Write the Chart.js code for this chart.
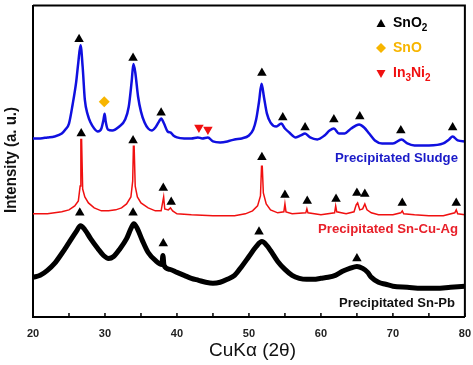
<!DOCTYPE html>
<html>
<head>
<meta charset="utf-8">
<script src="https://cdn.jsdelivr.net/npm/chart.js@4.4.1/dist/chart.umd.min.js"></script>
<style>
  body { margin: 0; background: #fff; }
  #wrap { width: 473px; height: 365px; }
</style>
</head>
<body>
<div id="wrap"><canvas id="xrd"></canvas></div>
<script>
// intensity in arbitrary units (stacked offsets already included)
const sludgeX = [20,21,22,23,24,24.5,25,25.5,26,26.3,26.6,26.9,27.2,27.6,28,28.5,29,29.5,29.8,29.95,30.1,30.4,31,32,32.8,33.3,33.7,33.95,34.2,34.6,35,35.5,36,36.5,37,37.5,37.8,38.2,38.7,39.1,39.5,40,41,42,42.9,43.5,44.3,45,46,47,48,49,50,50.6,51,51.4,51.75,52.1,52.5,53,53.8,54.5,55,55.6,56.5,57.2,57.8,58.5,59.5,60.5,61.2,61.8,62.5,63.3,64.2,65.3,66,66.7,67.5,68.5,70,71.2,72,73,75,77,77.8,78.3,79,80];
const sludgeY = [180,180,181,182,185,189,195,214,237,257,274,252,219,204,196,190,187,190,199,205,197,189,188,192,199,212,237,255,247,222,207,196,190,188,191,197,200,195,187,186,183,181,180,180,181,180,181,177,176,177,179,180,183,189,199,217,235,221,205,196,192,195,190,186,181,183,185,181,179,183,188,190,185,185,190,194,191,185,178,175,175,179,175,173,173,175,179,182,178,177];

const cuagX = [20,22,23,24,25,25.8,26.3,26.55,26.65,26.75,26.9,27.2,27.7,28.5,29.5,30.5,31.5,32.3,33,33.6,33.85,33.95,34.05,34.2,34.5,35,36,37,37.8,38.05,38.15,38.3,38.8,39.1,39.4,40,42,45,48,49.5,50.5,51.2,51.6,51.75,51.85,52,52.4,53,54,54.85,55,55.15,56,57.9,58.05,58.2,60,61.9,62.05,62.2,63.5,64.6,64.9,65.1,65.4,65.8,66.1,66.4,67,68,70,71.1,71.3,71.5,73,75,77,78.6,78.8,79,80];
const cuagY = [104,104,105,106,108,112,117,132,179,179,129,121,115,110,107,107,108,110,114,121,137,172,172,132,121,115,110,107,107,117,121,109,108,110,107,104,103,102,102,104,107,112,122,152,152,125,114,108,105,106,114,106,104,105,109,105,103,105,112,106,104,106,113,115,108,109,114,108,105,103,103,105,107,104,103,102,102,105,108,104,103];

const snpbX = [20,21,22,23,24,25,26,26.6,27.2,28,29,29.8,30.5,31.2,32,33,33.6,34,34.5,35.2,36,37,37.9,38.05,38.2,39,40,41,42,43,44,45,46,47,48,49,50,51,51.8,52.5,53,54,55,56,57,58,59,60,61,62,63,64,65,65.8,66.5,67,68,69,70,72,74,76,78,80];
const snpbY = [40,42,47,54,64,75,86,92,88,79,69,62,59,61,68,79,89,94,89,77,65,57,53,62,52,48,45,42,39,37,35,34,35,38,42,51,61,71,76,72,67,56,48,42,39,38,38,39,40,42,46,49,51,49,45,40,35,33,31,30,29,29,30,31];

// reflection markers
const sno2X = [26.4,33.9,37.8,51.8,54.7,57.8,61.8,65.4,71.1,78.3, 26.7,33.9,38.1,39.2,51.8,55.0,58.1,62.1,65.0,66.1,71.3,78.8, 26.5,33.9,38.1,51.4,65.0];
const sno2Y = [280,261,206,246,201,191,199,202,188,191, 185,178,130,116,161,123,117,119,125,124,115,115, 105,105,74,86,59];
const snoX = [29.9];
const snoY = [217];
const in3ni2X = [43.05,44.3];
const in3ni2Y = [191,189];

const xTicks = [20,30,40,50,60,70,80];

const BLUE = '#1010e0';
const RED = '#f01010';
const ORANGE = '#f7b500';

function pts(xs, ys) { return xs.map((x, i) => ({x: x, y: ys[i]})); }

function sub(ctx, parts, x, y, color) {
  // parts: [text, isSub]
  ctx.fillStyle = color;
  ctx.textBaseline = 'middle';
  ctx.textAlign = 'left';
  let cx = x;
  parts.forEach(p => {
    ctx.font = p[1] ? 'bold 10px Arial' : 'bold 14px Arial';
    ctx.fillText(p[0], cx, y + (p[1] ? 5 : 0));
    cx += ctx.measureText(p[0]).width;
  });
}

function fitText(ctx, text, font, right, y, width, color) {
  ctx.save();
  ctx.font = font;
  ctx.fillStyle = color;
  ctx.textBaseline = 'middle';
  ctx.textAlign = 'left';
  const w = ctx.measureText(text).width;
  const s = width / w;
  ctx.translate(right - width, y);
  ctx.scale(s, 1);
  ctx.fillText(text, 0, 0);
  ctx.restore();
}

const decor = {
  id: 'decor',
  afterDraw(chart) {
    const ctx = chart.ctx;
    const a = chart.chartArea;
    const xs = chart.scales.x;
    ctx.save();
    // frame top + right
    ctx.strokeStyle = '#000';
    ctx.lineWidth = 2;
    ctx.beginPath();
    ctx.moveTo(a.left, a.top);
    ctx.lineTo(a.right, a.top);
    ctx.lineTo(a.right, a.bottom);
    ctx.stroke();
    // inward ticks
    ctx.lineWidth = 1.5;
    for (let v = 20; v <= 80; v += 5) {
      const px = xs.getPixelForValue(v);
      ctx.beginPath();
      ctx.moveTo(px, a.bottom);
      ctx.lineTo(px, a.bottom - 4);
      ctx.stroke();
    }
    // legend
    const lx = 381;
    ctx.fillStyle = '#000';
    ctx.beginPath();
    ctx.moveTo(lx - 4.5, 27); ctx.lineTo(lx + 4.5, 27); ctx.lineTo(lx, 19); ctx.closePath(); ctx.fill();
    sub(ctx, [['SnO', false], ['2', true]], 393, 23, '#000');
    ctx.fillStyle = ORANGE;
    ctx.beginPath();
    ctx.moveTo(lx, 43); ctx.lineTo(lx + 5, 48); ctx.lineTo(lx, 53); ctx.lineTo(lx - 5, 48); ctx.closePath(); ctx.fill();
    sub(ctx, [['SnO', false]], 393, 48, ORANGE);
    ctx.fillStyle = RED;
    ctx.beginPath();
    ctx.moveTo(lx - 4.5, 70); ctx.lineTo(lx + 4.5, 70); ctx.lineTo(lx, 78); ctx.closePath(); ctx.fill();
    sub(ctx, [['In', false], ['3', true], ['Ni', false], ['2', true]], 393, 73, RED);
    // series labels
    fitText(ctx, 'Precipitated Sludge', 'bold 13px Arial', 458, 158, 123, '#1a1ac8');
    fitText(ctx, 'Precipitated Sn-Cu-Ag', 'bold 13px Arial', 458, 229, 140, '#e8202a');
    fitText(ctx, 'Precipitated Sn-Pb', 'bold 13px Arial', 455, 303, 116, '#111');
    // axis titles
    ctx.save();
    ctx.translate(11, 160);
    ctx.rotate(-Math.PI / 2);
    fitText(ctx, 'Intensity (a. u.)', 'bold 17px Arial', 53, 0, 106, '#111');
    ctx.restore();
    fitText(ctx, 'CuK\u03b1 (2\u03b8)', '18px Arial', 296, 351, 87, '#111');
    ctx.restore();
  }
};

new Chart(document.getElementById('xrd'), {
  type: 'line',
  data: {
    datasets: [
      { data: pts(sludgeX, sludgeY), borderColor: BLUE, borderWidth: 2.5, pointRadius: 0, cubicInterpolationMode: 'monotone', order: 3 },
      { data: pts(cuagX, cuagY), borderColor: RED, borderWidth: 1.5, pointRadius: 0, tension: 0, order: 3 },
      { data: pts(snpbX, snpbY), borderColor: '#000', borderWidth: 5, pointRadius: 0, cubicInterpolationMode: 'monotone', order: 3 },
      { data: pts(sno2X, sno2Y), showLine: false, pointStyle: 'triangle', pointRadius: 5.5, backgroundColor: '#000', borderColor: '#000', borderWidth: 0, order: 1 },
      { data: pts(snoX, snoY), showLine: false, pointStyle: 'rectRot', pointRadius: 5.5, backgroundColor: ORANGE, borderColor: ORANGE, borderWidth: 0, order: 1 },
      { data: pts(in3ni2X, in3ni2Y), showLine: false, pointStyle: 'triangle', rotation: 180, pointRadius: 5.5, backgroundColor: RED, borderColor: RED, borderWidth: 0, order: 1 }
    ]
  },
  options: {
    responsive: true,
    maintainAspectRatio: false,
    animation: false,
    layout: { padding: { left: 0, top: 3, right: 8, bottom: 0 } },
    plugins: { legend: { display: false }, tooltip: { enabled: false } },
    scales: {
      x: {
        type: 'linear', min: 20, max: 80,
        afterFit: s => { s.height = 48; },
        afterBuildTicks: s => { s.ticks = xTicks.map(v => ({ value: v })); },
        grid: { display: false },
        border: { display: true, color: '#000', width: 2 },
        ticks: { color: '#222', padding: 2, maxRotation: 0, font: { family: 'Arial', size: 11, weight: 'bold' } }
      },
      y: {
        min: 0, max: 314,
        afterFit: s => { s.width = 33; },
        grid: { display: false },
        border: { display: true, color: '#000', width: 2 },
        ticks: { display: false }
      }
    }
  },
  plugins: [decor]
});
</script>
</body>
</html>
